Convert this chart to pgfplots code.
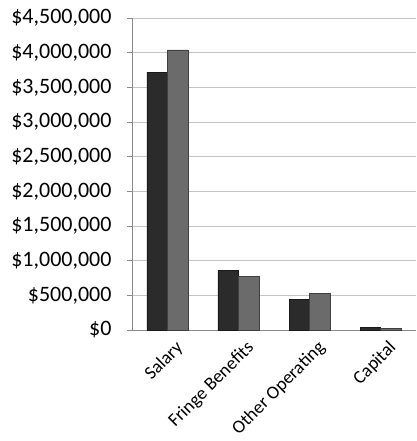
\documentclass[border=0pt]{standalone}
\usepackage{pgfplots}
\pgfplotsset{compat=1.18}
\usepackage{fontspec}
\setmainfont{Carlito}
\definecolor{darkbar}{HTML}{2B2B2B}
\definecolor{lightbar}{HTML}{6B6B6B}
\definecolor{gridc}{HTML}{C4C4C4}
\definecolor{axc}{HTML}{8A8A8A}
\begin{document}
\begin{tikzpicture}
\begin{axis}[
  scale only axis,
  width=284bp, height=312bp,
  ybar=0pt, bar width=20.5bp,
  xmin=-0.5, xmax=3.5,
  ymin=0, ymax=4500000,
  xtick={0,1,2,3},
  xticklabels={Salary,Fringe Benefits,Other Operating,Capital},
  xticklabel style={rotate=45, anchor=north east, font=\fontsize{18.5bp}{20bp}\selectfont, inner sep=1bp, yshift=-7bp, xshift=3bp},
  ytick={0,500000,1000000,1500000,2000000,2500000,3000000,3500000,4000000,4500000},
  yticklabels={\$0,{\$500,000},{\$1,000,000},{\$1,500,000},{\$2,000,000},{\$2,500,000},{\$3,000,000},{\$3,500,000},{\$4,000,000},{\$4,500,000}},
  yticklabel style={font=\fontsize{22bp}{24bp}\selectfont, xshift=-12bp},
  scaled y ticks=false,
  ymajorgrids, grid style={gridc, line width=0.9bp},
  axis x line*=bottom, axis y line*=left,
  axis line style={axc, line width=0.9bp},
  major tick length=5bp,
  tick style={axc, line width=0.8bp},
  xtick pos=bottom, ytick pos=left,
  tick align=outside,
  extra x ticks={0.5,1.5,2.5},
  extra x tick labels={},
  extra x tick style={grid=none, major tick length=5bp},
  major x tick style={draw=none},
  clip=false,
]
\addplot[fill=darkbar, draw=black!90, line width=0.6bp] coordinates {(0,3720000) (1,855000) (2,443000) (3,35000)};
\addplot[fill=lightbar, draw=black!75, line width=0.6bp] coordinates {(0,4040000) (1,770000) (2,524000) (3,20000)};
\end{axis}
\path ([shift={(-132bp,-111bp)}]current axis.south west) rectangle ([shift={(0bp,18bp)}]current axis.north east);
\end{tikzpicture}
\end{document}
